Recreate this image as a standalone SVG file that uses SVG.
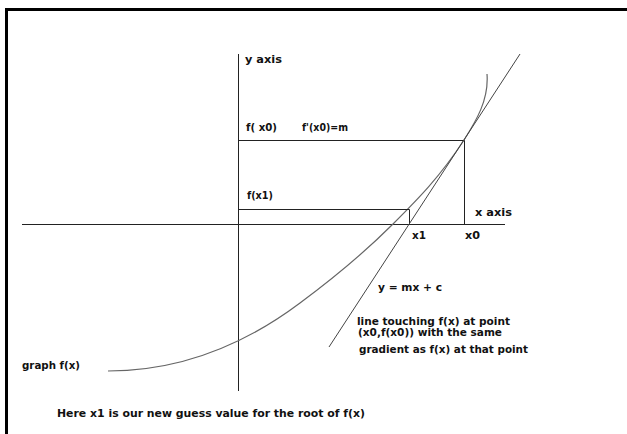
<svg xmlns="http://www.w3.org/2000/svg" width="627" height="434" viewBox="0 0 627 434">
  <style>
    .t { font-family: "DejaVu Sans", "Liberation Sans", Arial, sans-serif; font-size: 10.5px; font-weight: bold; fill: #111; }
    .ax { stroke: #222; stroke-width: 1; fill: none; }
    .guide { stroke: #222; stroke-width: 1; fill: none; }
    .tan { stroke: #444; stroke-width: 1; fill: none; }
    .curve { stroke: #666; stroke-width: 1.2; fill: none; }
  </style>
  <rect width="627" height="434" fill="#fff"/>
  <path d="M6.5,434 V9.5 H627" stroke="#000" stroke-width="3" fill="none"/>

  <g id="axes">
    <line class="ax" x1="238.5" y1="54" x2="238.5" y2="391"/>
    <line class="ax" x1="22" y1="224.5" x2="505" y2="224.5"/>
    <text class="t" x="245" y="63" textLength="37" lengthAdjust="spacingAndGlyphs">y axis</text>
    <text class="t" x="475" y="216" textLength="37" lengthAdjust="spacingAndGlyphs">x axis</text>
  </g>

  <g id="graph">
    <path class="curve" d="M108,371 C172,371 236,351 300,303 C331,280 362,255 393,224 C417,200 440,177 464,140 C476,121 489,100 487,74"/>
    <text class="t" x="22" y="369" textLength="58" lengthAdjust="spacingAndGlyphs">graph f(x)</text>
  </g>

  <g id="point-x0">
    <path class="guide" d="M238,140.5 H464.5 V224"/>
    <text class="t" x="246" y="131" textLength="31" lengthAdjust="spacingAndGlyphs">f( x0)</text>
    <text class="t" x="302" y="131" textLength="46" lengthAdjust="spacingAndGlyphs">f'(x0)=m</text>
    <text class="t" x="465" y="239" textLength="15" lengthAdjust="spacingAndGlyphs">x0</text>
  </g>

  <g id="point-x1">
    <path class="guide" d="M238,209.5 H409.5 V224"/>
    <text class="t" x="247" y="199" textLength="26" lengthAdjust="spacingAndGlyphs">f(x1)</text>
    <text class="t" x="412" y="239" textLength="14" lengthAdjust="spacingAndGlyphs">x1</text>
  </g>

  <g id="connectors">
    <line class="tan" x1="520" y1="54" x2="329" y2="347"/>
  </g>

  <g id="tangent-label">
    <text class="t" x="378" y="291" textLength="64" lengthAdjust="spacingAndGlyphs">y = mx + c</text>
    <text class="t" x="357" y="325" textLength="153" lengthAdjust="spacingAndGlyphs">line touching f(x) at point</text>
    <text class="t" x="358" y="336" textLength="144" lengthAdjust="spacingAndGlyphs">(x0,f(x0)) with the same</text>
    <text class="t" x="359" y="353" textLength="169" lengthAdjust="spacingAndGlyphs">gradient as f(x) at that point</text>
  </g>

  <g id="note">
    <text class="t" x="57" y="417" textLength="308" lengthAdjust="spacingAndGlyphs">Here x1 is our new guess value for the root of f(x)</text>
  </g>
</svg>
